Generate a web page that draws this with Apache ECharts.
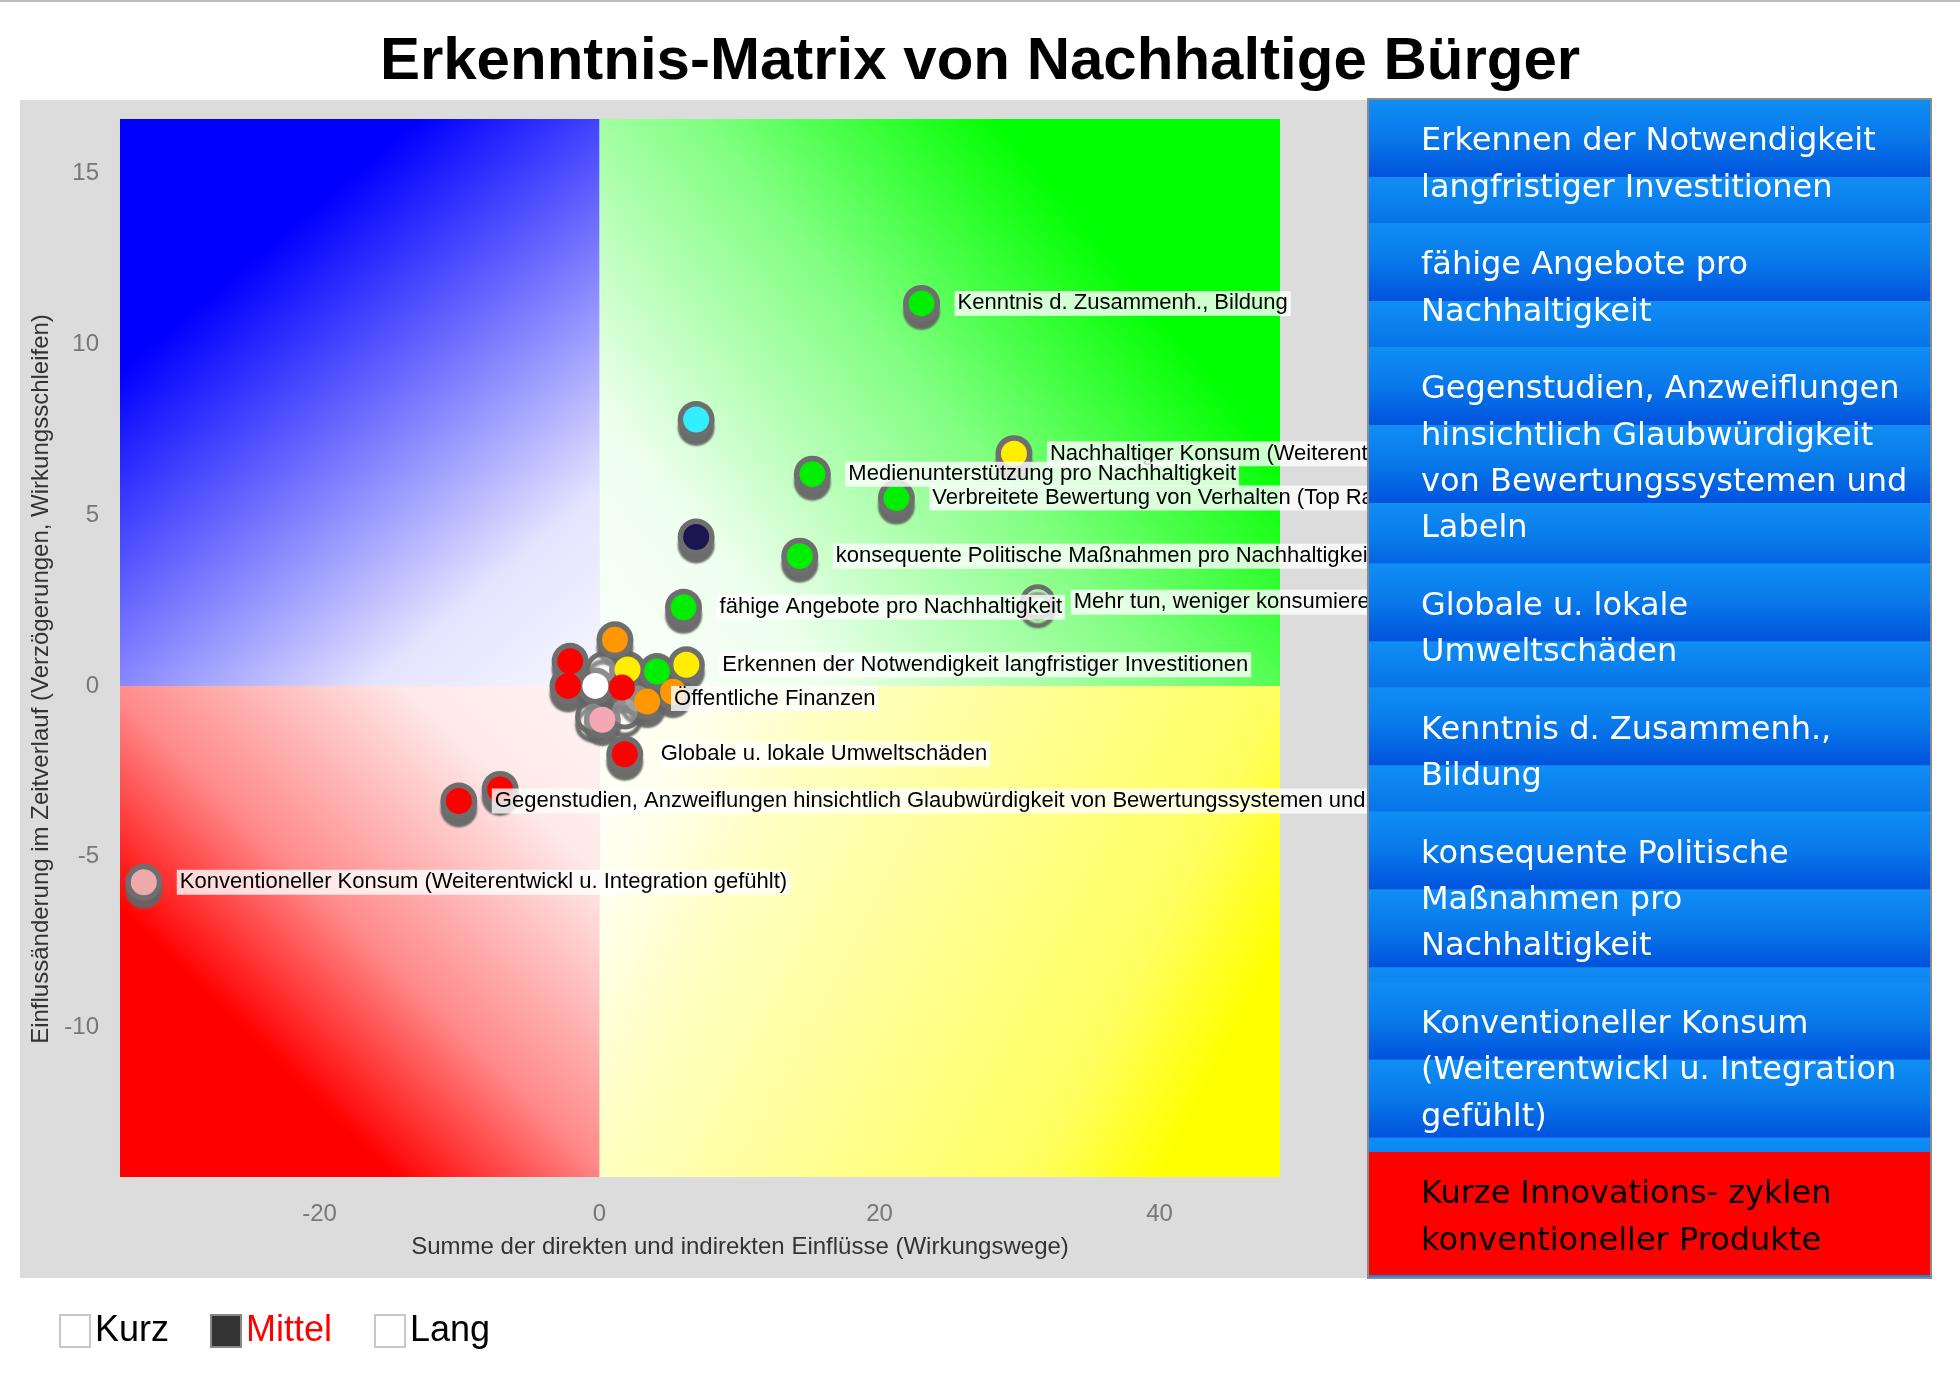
<!DOCTYPE html>
<html>
<head>
    <meta charset="utf-8">
    <title>Erkenntnis-Matrix</title>
    <script src="https://cdn.jsdelivr.net/npm/echarts@6/dist/echarts.min.js"></script>
</head>
<body style="margin:0;background:#fff">
    <div id="main" style="width:1960px;height:1374px"></div>
    <script type="text/javascript">
        // axis ranges and tick labels
        var X_MIN = -34.25, X_MAX = 48.6, Y_MIN = -14.38, Y_MAX = 16.6;
        var xTicks = [-20, 0, 20, 40];
        var yTicks = [-10, -5, 0, 5, 10, 15];

        // points (drawn in this order, later ones on top)
        var pointNames = ['', '', '', 'Öffentliche Finanzen', 'Mehr tun, weniger konsumieren',
            '', '', '', '', '',
            '', '', '', '', '',
            'Erkennen der Notwendigkeit langfristiger Investitionen', 'fähige Angebote pro Nachhaltigkeit', 'Globale u. lokale Umweltschäden', '', 'Gegenstudien, Anzweiflungen hinsichtlich Glaubwürdigkeit von Bewertungssystemen und Labeln',
            'Konventioneller Konsum (Weiterentwickl u. Integration gefühlt)', '', 'konsequente Politische Maßnahmen pro Nachhaltigkeit', 'Verbreitete Bewertung von Verhalten (Top Ranking)', 'Nachhaltiger Konsum (Weiterentwickl u. Integration gefühlt)',
            'Medienunterstützung pro Nachhaltigkeit', '', 'Kenntnis d. Zusammenh., Bildung'];
        var pointX = [0.25, -0.46, 1.8, 2.75, 31.3, 0.2, 3.4, 5.25, 2.0, -2.1, 1.1, 1.6, -2.25, -0.3, 4.1,
            6.2, 6.0, 1.8, -7.1, -10.05, -32.55, 6.9, 14.3, 21.2, 29.6, 15.2, 6.9, 23.0];
        var pointY = [0.48, -0.9, -0.75, -0.37, 2.45, -0.99, -0.46, -0.17, 0.48, 0.72, 1.35, -0.05, 0, 0, 0.42,
            0.62, 2.3, -2.0, -3.03, -3.37, -5.75, 4.36, 3.8, 5.5, 6.8, 6.2, 7.8, 11.2];
        var pointColors = ['none', 'none', 'none', 'none', 'none', '#f4a8b6', '#ff9800', '#ff9800', '#ffee00', '#ff0000',
            '#ff9800', '#ff0000', '#ff0000', '#ffffff', '#00ee00', '#ffee00', '#00ee00', '#ff0000', '#ff0000', '#ff0000',
            '#eeaaaa', '#1c1650', '#00ee00', '#00ee00', '#ffee00', '#00ee00', '#33eeff', '#00ee00'];

        // side panel entries
        var panelItems = [
            ['Erkennen der Notwendigkeit', 'langfristiger Investitionen'],
            ['fähige Angebote pro', 'Nachhaltigkeit'],
            ['Gegenstudien, Anzweiflungen', 'hinsichtlich Glaubwürdigkeit', 'von Bewertungssystemen und', 'Labeln'],
            ['Globale u. lokale', 'Umweltschäden'],
            ['Kenntnis d. Zusammenh.,', 'Bildung'],
            ['konsequente Politische', 'Maßnahmen pro', 'Nachhaltigkeit'],
            ['Konventioneller Konsum', '(Weiterentwickl u. Integration', 'gefühlt)'],
            ['Kurze Innovations- zyklen', 'konventioneller Produkte']
        ];
        var panelHot = [false, false, false, false, false, false, false, true];

        var legendNames = ['Kurz', 'Mittel', 'Lang'];

        (function () {
            function grad(x, y, x2, y2, stops) {
                return new echarts.graphic.LinearGradient(x, y, x2, y2, stops.map(function (s) {
                    return {offset: s[0], color: s[1]};
                }));
            }

            var chart = echarts.init(document.getElementById('main'));

            // side panel graphics
            var panel = [];
            var PX = 1368, PY = 99, PW = 563, PH = 1179, LINE_H = 46.25, PAD = 31.5, BAND = 78;
            var itemTop = PY;
            panelItems.forEach(function (lines, k) {
                var h = lines.length * LINE_H + PAD;
                if (k === panelItems.length - 1) h = PY + PH - itemTop - 3;
                if (panelHot[k]) {
                    panel.push({type: 'rect', z: 100, shape: {x: PX, y: itemTop, width: PW, height: h}, style: {fill: '#ff0000'}});
                } else {
                    for (var b = itemTop; b < itemTop + h - 0.5; b += BAND) {
                        var bh = Math.min(BAND, itemTop + h - b);
                        panel.push({type: 'rect', z: 100, shape: {x: PX, y: b, width: PW, height: bh},
                            style: {fill: grad(0, 0, 0, BAND / bh, [[0, '#108ef4'], [0.5, '#0878ea'], [1, '#0052dc']])}});
                    }
                }
                lines.forEach(function (t, i) {
                    panel.push({type: 'text', z: 101, x: PX + 53, y: itemTop + 43 + i * LINE_H,
                        style: {text: t, fill: panelHot[k] ? '#000' : '#fff', font: '32px "DejaVu Sans"', verticalAlign: 'middle'}});
                });
                itemTop += h;
            });
            panel.push({type: 'rect', z: 99, shape: {x: PX, y: PY, width: PW, height: PH}, style: {fill: '#0a86ee'}});
            panel.push({type: 'rect', z: 102, shape: {x: PX, y: PY, width: PW, height: PH}, style: {fill: 'none', stroke: '#8a8a8a', lineWidth: 2}});

            // legend (filter boxes)
            var legendX = [60, 211, 375];
            var legend = [];
            legendNames.forEach(function (n, i) {
                legend.push({type: 'rect', shape: {x: legendX[i], y: 1315, width: 30, height: 32},
                    style: {fill: i === 1 ? '#333' : '#fff', stroke: i === 1 ? '#888' : '#c8c8c8', lineWidth: 2}});
                legend.push({type: 'text', x: legendX[i] + 35, y: 1331,
                    style: {text: n, fill: i === 1 ? '#ff0000' : '#000', font: '36px "Liberation Sans"', verticalAlign: 'middle'}});
            });

            // gray ring + drop shadow under each point
            var rings = pointX.map(function (x, i) {
                var hollow = pointColors[i] === 'none';
                return {
                    value: [x, pointY[i]],
                    symbolSize: hollow ? 31 : 37,
                    itemStyle: hollow ? {color: 'rgba(0,0,0,0)', borderColor: '#6e6e6e', borderWidth: 5} : {color: '#6e6e6e'}
                };
            });
            // coloured disks with labels
            var points = pointX.map(function (x, i) {
                var hollow = pointColors[i] === 'none';
                return {
                    name: pointNames[i],
                    value: [x, pointY[i]],
                    itemStyle: {color: hollow ? 'rgba(255,255,255,0.22)' : pointColors[i]},
                    label: {show: pointNames[i] !== ''}
                };
            });

            chart.setOption({
                animation: false,
                title: {
                    text: 'Erkenntnis-Matrix von Nachhaltige Bürger',
                    left: 'center',
                    top: 27,
                    textStyle: {fontSize: 60, fontWeight: 'bold', color: '#000', fontFamily: 'Liberation Sans'}
                },
                graphic: [
                    {type: 'line', shape: {x1: 0, y1: 1, x2: 1960, y2: 1}, style: {stroke: '#bdbdbd', lineWidth: 2}},
                    {type: 'rect', z: -10, shape: {x: 20, y: 100, width: 1348, height: 1178}, style: {fill: '#dcdcdc'}}
                ].concat(panel, legend),
                grid: {left: 120, top: 119, width: 1160, height: 1058, outerBoundsMode: 'none'},
                xAxis: {
                    type: 'value', min: X_MIN, max: X_MAX,
                    axisLine: {show: false}, axisTick: {show: false}, splitLine: {show: false},
                    axisLabel: {customValues: xTicks, margin: 25, color: '#777', fontSize: 24, fontFamily: 'Liberation Sans'},
                    name: 'Summe der direkten und indirekten Einflüsse (Wirkungswege)',
                    nameLocation: 'middle', nameGap: 58,
                    nameTextStyle: {color: '#333', fontSize: 24, fontFamily: 'Liberation Sans', padding: [0, 0, 0, 80]}
                },
                yAxis: {
                    type: 'value', min: Y_MIN, max: Y_MAX,
                    axisLine: {show: false}, axisTick: {show: false}, splitLine: {show: false},
                    axisLabel: {customValues: yTicks, margin: 21, color: '#777', fontSize: 24, fontFamily: 'Liberation Sans'},
                    name: 'Einflussänderung im Zeitverlauf (Verzögerungen, Wirkungsschleifen)',
                    nameLocation: 'middle', nameGap: 66,
                    nameTextStyle: {color: '#333', fontSize: 24, fontFamily: 'Liberation Sans', padding: [0, 62, 0, 0]}
                },
                series: [
                    {
                        type: 'scatter', z: 1, silent: true, data: [],
                        markArea: {
                            silent: true,
                            label: {show: false},
                            data: [
                                [{coord: [X_MIN, 0], itemStyle: {color: grad(1, 1, 0, 0, [[0, '#f6f6ff'], [0.2, '#e4e4ff'], [0.74, '#0000ff'], [1, '#0000ff']])}}, {coord: [0, Y_MAX]}],
                                [{coord: [0, 0], itemStyle: {color: grad(0, 1, 1, 0, [[0, '#fbfffb'], [0.2, '#eeffee'], [0.5, '#80ff80'], [0.76, '#00ff00'], [1, '#00ff00']])}}, {coord: [X_MAX, Y_MAX]}],
                                [{coord: [X_MIN, Y_MIN], itemStyle: {color: grad(1, 0, 0, 1, [[0, '#fff4f4'], [0.2, '#ffe8e8'], [0.5, '#ff8a8a'], [0.72, '#ff0000'], [1, '#ff0000']])}}, {coord: [0, 0]}],
                                [{coord: [0, Y_MIN], itemStyle: {color: grad(0, 0, 1, 0.7, [[0, '#fffffa'], [0.12, '#fffff0'], [0.29, '#ffffc0'], [0.8, '#ffff60'], [0.95, '#ffff00'], [1, '#ffff00']])}}, {coord: [X_MAX, 0]}]
                            ]
                        }
                    },
                    {
                        type: 'scatter', z: 2, silent: true,
                        itemStyle: {opacity: 1, shadowColor: 'rgba(100,100,100,0.95)', shadowBlur: 2, shadowOffsetY: 8},
                        emphasis: {disabled: true},
                        data: rings
                    },
                    {
                        type: 'scatter', z: 3,
                        symbolSize: 26,
                        itemStyle: {opacity: 1},
                        label: {
                            position: 'right', distance: 20, formatter: '{b}',
                            color: '#000', fontSize: 22, fontFamily: 'Liberation Sans',
                            backgroundColor: 'rgba(255,255,255,0.8)', padding: [2, 3, 1, 3]
                        },
                        emphasis: {disabled: true},
                        data: points
                    }
                ]
            });
        })();
    </script>
</body>
</html>
